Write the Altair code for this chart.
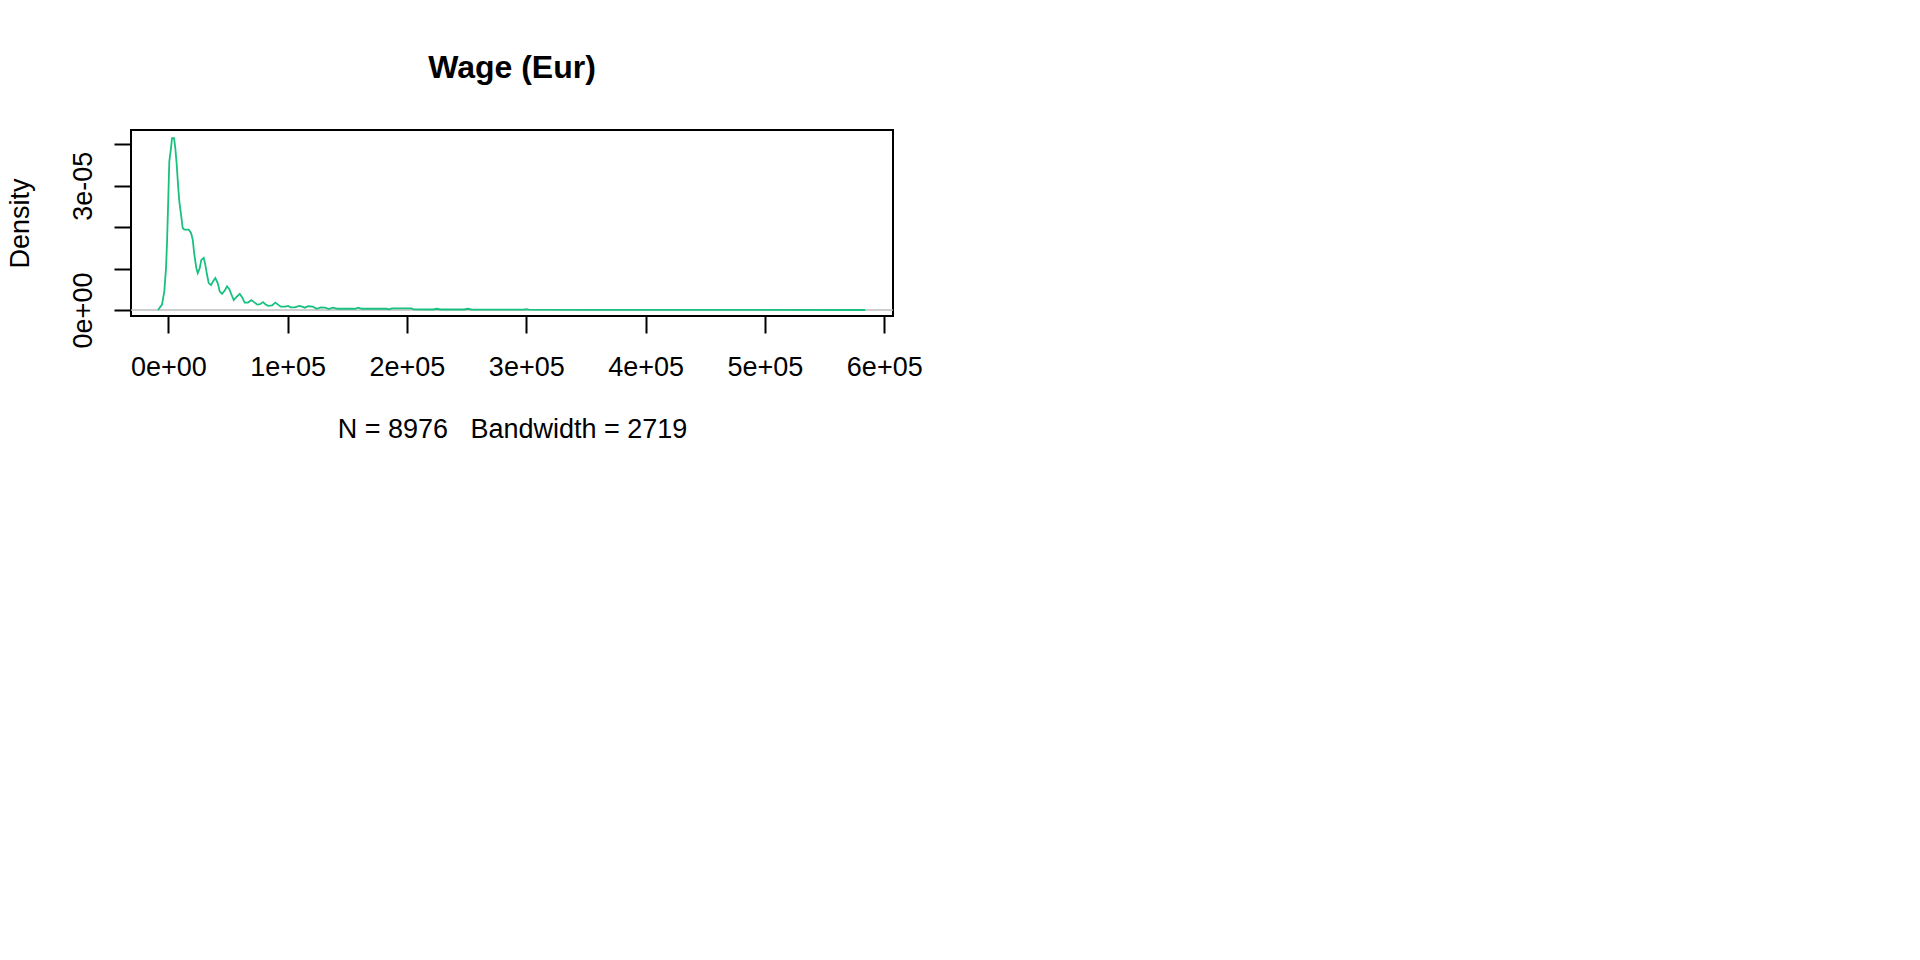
import altair as alt
import pandas as pd

# Kernel density estimate of wages
wage = [-8630, -5280, -3350, -1930, -1090, -250, 840, 2260, 3100, 4780,
        5870, 7040, 8130, 9220, 10650, 12070, 13410, 17100, 19030, 20450,
        21800, 23470, 24650, 26300, 27670, 29680, 31020, 32440, 33870, 35800,
        37470, 39400, 41400, 43090, 45020, 47280, 49210, 51140, 52800, 54830,
        57010, 59860, 61790, 64050, 66800, 69580, 71850, 74600, 76880, 79400,
        81320, 83580, 86940, 89700, 91970, 94230, 98090, 100350, 102600, 105970,
        109600, 112100, 114400, 117400, 121060, 124400, 127760, 131370, 134730, 137500,
        141700, 156500, 159300, 162100, 183100, 185300, 187300, 204000, 205400, 222000,
        225000, 228000, 248000, 251000, 254000, 298000, 300000, 302000, 350000, 450000,
        584000]
density = [0.0, 0.13e-05, 0.45e-05, 1.01e-05, 1.62e-05, 2.46e-05, 3.59e-05, 3.91e-05, 4.15e-05, 4.15e-05,
           3.91e-05, 3.51e-05, 3.03e-05, 2.62e-05, 2.30e-05, 1.98e-05, 1.94e-05, 1.94e-05, 1.86e-05, 1.70e-05,
           1.34e-05, 1.01e-05, 0.89e-05, 1.01e-05, 1.21e-05, 1.26e-05, 1.09e-05, 0.85e-05, 0.65e-05, 0.60e-05,
           0.69e-05, 0.77e-05, 0.65e-05, 0.45e-05, 0.39e-05, 0.47e-05, 0.57e-05, 0.50e-05, 0.38e-05, 0.24e-05,
           0.31e-05, 0.39e-05, 0.31e-05, 0.18e-05, 0.18e-05, 0.24e-05, 0.19e-05, 0.13e-05, 0.14e-05, 0.19e-05,
           0.14e-05, 0.10e-05, 0.11e-05, 0.18e-05, 0.13e-05, 0.08e-05, 0.08e-05, 0.10e-05, 0.065e-05, 0.065e-05,
           0.097e-05, 0.08e-05, 0.056e-05, 0.09e-05, 0.08e-05, 0.03e-05, 0.065e-05, 0.056e-05, 0.024e-05, 0.056e-05,
           0.03e-05, 0.03e-05, 0.056e-05, 0.03e-05, 0.03e-05, 0.016e-05, 0.04e-05, 0.04e-05, 0.016e-05, 0.012e-05,
           0.03e-05, 0.012e-05, 0.012e-05, 0.03e-05, 0.012e-05, 0.008e-05, 0.02e-05, 0.008e-05, 0.005e-05, 0.003e-05,
           0.0]

x_ticks = [0, 100000, 200000, 300000, 400000, 500000, 600000]
y_ticks = [0, 1e-05, 2e-05, 3e-05, 4e-05]

title_text = "Wage (Eur)"
x_title = "N = 8976\u00a0\u00a0\u00a0Bandwidth = 2719"
y_title = "Density"

df = pd.DataFrame({"wage": wage, "density": density})
zero_df = pd.DataFrame({"y": [0.0]})

FONT = "Liberation Sans"
FS = 27

x_scale = alt.Scale(domain=[-31270, 607310], nice=False, zero=False)
y_scale = alt.Scale(domain=[-0.145e-05, 4.346e-05], nice=False, zero=False)

x_axis = alt.Axis(
    values=x_ticks,
    labelExpr="datum.value == 0 ? '0e+00' : (round(datum.value / 100000) + 'e+05')",
    title=x_title,
    grid=False, domain=False,
    tickSize=17, tickWidth=2, tickColor="black",
    labelPadding=42, labelBaseline="alphabetic", labelFontSize=FS, labelFont=FONT,
    labelColor="black", labelFlush=False, labelOverlap=False,
    titleFont=FONT, titleFontSize=FS, titleFontWeight="normal", titleColor="black",
    titleBaseline="alphabetic", titleY=121.3,
)
y_axis = alt.Axis(
    values=y_ticks,
    labelExpr="datum.value == 0 ? '0e+00' : (abs(datum.value - 0.00003) < 1e-7 ? '3e-05' : '')",
    title=y_title,
    grid=False, domain=False,
    tickSize=17, tickWidth=2, tickColor="black",
    labelAngle=270, labelAlign="center", labelBaseline="alphabetic",
    labelPadding=23, labelFontSize=FS, labelFont=FONT, labelColor="black",
    labelFlush=False, labelOverlap=False,
    titleFont=FONT, titleFontSize=FS, titleFontWeight="normal", titleColor="black",
    titleAngle=270, titleBaseline="alphabetic", titleX=-102.5, titleY=93,
)

zero_line = alt.Chart(zero_df).mark_rule(color="#BEBEBE", strokeWidth=1.3).encode(
    y=alt.Y("y:Q", scale=y_scale, axis=y_axis)
)

curve = alt.Chart(df).mark_line(color="#19C07F", strokeWidth=1.8).encode(
    x=alt.X("wage:Q", scale=x_scale, axis=x_axis),
    y=alt.Y("density:Q", scale=y_scale),
)

chart = alt.layer(zero_line, curve).properties(
    width=762,
    height=186,
    title=alt.TitleParams(
        text=title_text, font=FONT, fontSize=32, fontWeight="bold", color="black",
        anchor="middle", baseline="alphabetic", offset=20,
    ),
    autosize=alt.AutoSizeParams(type="none"),
    padding={"left": 131, "top": 130, "right": 1027, "bottom": 644},
    background="white",
).configure_view(stroke="black", strokeWidth=2)

chart.save("out.html", embed_options={"renderer": "svg", "actions": False})
